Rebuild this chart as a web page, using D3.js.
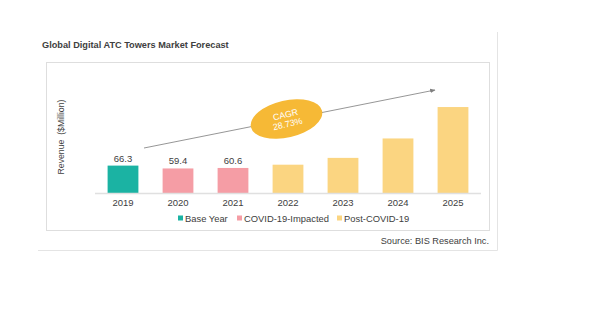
<!DOCTYPE html>
<html lang="en">
<head>
    <meta charset="UTF-8">
    <title>Global Digital ATC Towers Market Forecast</title>
    <script src="https://d3js.org/d3.v7.min.js"></script>
    <style>
        body {
            margin: 0;
            padding: 0;
            background: #fff;
            font-family: "Liberation Sans", Arial, sans-serif;
        }
        svg {
            display: block;
        }
        .tick-label, .value-label {
            font-size: 9.5px;
            fill: #404040;
            text-anchor: middle;
        }
    </style>
</head>
<body>
    <svg id="chart" width="600" height="325"></svg>

    <script>
        // Datos
        const years = ["2019", "2020", "2021", "2022", "2023", "2024", "2025"];
        const revenue = [66.3, 59.4, 60.6, 68.5, 85.0, 132.0, 208.0];
        const phases = ["Base Year", "COVID-19-Impacted", "COVID-19-Impacted",
                        "Post-COVID-19", "Post-COVID-19", "Post-COVID-19", "Post-COVID-19"];
        const valueLabels = ["66.3", "59.4", "60.6", null, null, null, null];
        const legendItems = ["Base Year", "COVID-19-Impacted", "Post-COVID-19"];
        const legendColors = ["#1bb3a3", "#f59da5", "#fbd581"];
        const cagrText = ["CAGR", "28.73%"];

        const data = years.map((y, i) => ({ year: y, value: revenue[i], phase: phases[i], label: valueLabels[i] }));

        const svg = d3.select("#chart");

        // marco exterior (solo derecha y abajo)
        svg.append("line").attr("x1", 497.5).attr("x2", 497.5).attr("y1", 32).attr("y2", 250.5)
            .attr("stroke", "#e4e4e4").attr("stroke-width", 1);
        svg.append("line").attr("x1", 38).attr("x2", 497.5).attr("y1", 250.5).attr("y2", 250.5)
            .attr("stroke", "#e4e4e4").attr("stroke-width", 1);

        // título
        svg.append("text")
            .attr("x", 42).attr("y", 48)
            .attr("font-size", "9.2px").attr("font-weight", "bold").attr("fill", "#404040")
            .text("Global Digital ATC Towers Market Forecast");

        // caja interior
        svg.append("rect")
            .attr("x", 46.5).attr("y", 62.5).attr("width", 443).attr("height", 168)
            .attr("fill", "none").attr("stroke", "#dedede").attr("stroke-width", 1);

        const baseY = 193;

        const x = d3.scaleBand()
            .domain(years)
            .range([95.5, 480.5])
            .paddingInner(0.44)
            .paddingOuter(0.22);

        const y = d3.scaleLinear()
            .domain([0, 66.3])
            .range([baseY, baseY - 27.4]);

        const color = d3.scaleOrdinal().domain(legendItems).range(legendColors);

        // barras
        svg.selectAll(".bar")
            .data(data)
            .enter()
            .append("rect")
            .attr("class", "bar")
            .attr("x", d => x(d.year))
            .attr("y", d => y(d.value))
            .attr("width", x.bandwidth())
            .attr("height", d => baseY - y(d.value))
            .attr("fill", d => color(d.phase));

        // eje x
        svg.append("line")
            .attr("x1", 95).attr("x2", 481).attr("y1", baseY + 0.5).attr("y2", baseY + 0.5)
            .attr("stroke", "#e0e0e0").attr("stroke-width", 1.5);

        svg.selectAll(".tick-label")
            .data(years)
            .enter()
            .append("text")
            .attr("class", "tick-label")
            .attr("x", d => x(d) + x.bandwidth() / 2)
            .attr("y", 206)
            .text(d => d);

        // etiquetas de valor
        svg.selectAll(".value-label")
            .data(data.filter(d => d.label))
            .enter()
            .append("text")
            .attr("class", "value-label")
            .attr("x", d => x(d.year) + x.bandwidth() / 2)
            .attr("y", d => y(d.value) - 4)
            .text(d => d.label);

        // título eje y
        svg.append("text")
            .attr("transform", "translate(64,137) rotate(-90)")
            .attr("text-anchor", "middle")
            .attr("font-size", "8.7px").attr("fill", "#404040")
            .attr("xml:space", "preserve")
            .text("Revenue  ($Million)");

        // flecha de tendencia
        svg.append("defs").append("marker")
            .attr("id", "arrow")
            .attr("viewBox", "0 0 10 10")
            .attr("refX", 9).attr("refY", 5)
            .attr("markerWidth", 6).attr("markerHeight", 6)
            .attr("orient", "auto")
            .append("path")
            .attr("d", "M0,1 L10,5 L0,9 Z")
            .attr("fill", "#7f7f7f");

        svg.append("line")
            .attr("x1", 144).attr("y1", 148).attr("x2", 435).attr("y2", 90)
            .attr("stroke", "#8a8a8a").attr("stroke-width", 0.9)
            .attr("marker-end", "url(#arrow)");

        // elipse CAGR
        const badge = svg.append("g").attr("transform", "translate(286.5,119) rotate(-13)");
        badge.append("ellipse")
            .attr("rx", 36.5).attr("ry", 18.5)
            .attr("fill", "#f6b936");
        badge.selectAll("text")
            .data(cagrText)
            .enter()
            .append("text")
            .attr("x", 0)
            .attr("y", (d, i) => i === 0 ? -1.5 : 8)
            .attr("text-anchor", "middle")
            .attr("font-size", "8.8px").attr("fill", "#fff")
            .text(d => d);

        // leyenda
        const legendX = [178, 237, 337];
        const legend = svg.selectAll(".legend")
            .data(legendItems)
            .enter()
            .append("g")
            .attr("class", "legend")
            .attr("transform", (d, i) => `translate(${legendX[i]},218)`);

        legend.append("rect")
            .attr("x", 0).attr("y", -2.5).attr("width", 5).attr("height", 5)
            .attr("fill", d => color(d));

        legend.append("text")
            .attr("x", 7).attr("y", 3.5)
            .attr("font-size", "9.4px").attr("fill", "#404040")
            .text(d => d);

        // fuente
        svg.append("text")
            .attr("x", 489).attr("y", 243.5)
            .attr("text-anchor", "end")
            .attr("font-size", "9.2px").attr("fill", "#404040")
            .text("Source: BIS Research Inc.");
    </script>
</body>
</html>
